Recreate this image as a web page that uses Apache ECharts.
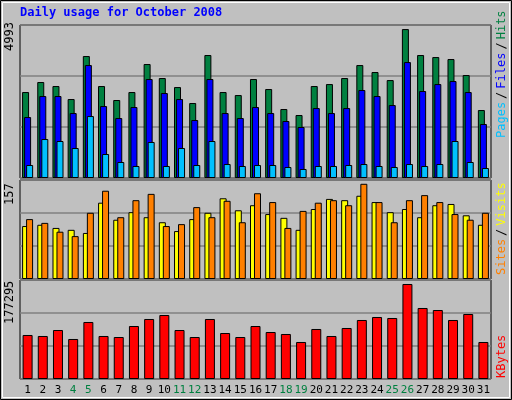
<!DOCTYPE html>
<html><head><meta charset="utf-8">
<script src="https://cdn.jsdelivr.net/npm/echarts@6/dist/echarts.min.js"></script>
<style>html,body{margin:0;padding:0;background:#c0c0c0}#c{width:512px;height:400px}</style>
</head><body><div id="c"></div>
<script>
const days = ['1','2','3','4','5','6','7','8','9','10','11','12','13','14','15','16','17','18','19','20','21','22','23','24','25','26','27','28','29','30','31'];
const weekend = ['4','5','11','12','18','19','25','26'];
const hits = [2805,3132,3001,2577,3980,3001,2545,2805,3719,3262,2968,2447,4013,2805,2707,3230,2903,2251,2055,3001,3066,3262,3686,3458,3196,4860,4013,3947,3882,3360,2218];
const files = [1990,2675,2675,2120,3686,2349,1957,2316,3230,2773,2577,1892,3230,2120,1957,2316,2120,1860,1664,2283,2120,2283,2871,2675,2381,3784,2839,3066,3164,2805,1762];
const pages = [424,1272,1207,979,2022,783,522,392,1175,392,979,424,1207,456,392,424,424,359,294,392,392,424,456,392,359,456,392,456,1207,522,326];
const sites = [84,86,81,78,73,121,94,106,98,90,76,95,105,128,109,117,103,97,78,111,127,125,132,122,106,111,98,117,119,101,86];
const visits = [95,89,75,68,105,140,98,125,135,84,87,114,98,124,90,136,122,81,108,121,125,117,151,122,90,125,133,122,103,94,105];
const kbytes = [78798,77007,87752,71635,102079,77007,75216,94915,107452,114615,87752,75216,107452,82379,75216,94915,84170,80589,66262,89543,77007,91334,105661,111034,109243,170132,127151,123569,105661,116406,66262];
const maxHits = 4993, maxVisits = 157, maxK = 177295;

const chart = echarts.init(document.getElementById('c'));
const G = [{top:25,height:153},{top:180,height:99},{top:280,height:99}];
const grids = G.map(g=>({left:20,right:21,top:g.top,height:g.height,show:true,backgroundColor:'#c0c0c0',borderColor:'#000',borderWidth:1}));
const xAxes = G.map((g,i)=>({type:'category',gridIndex:i,data:days,axisLine:{show:false},axisTick:{show:false},
  axisLabel:{show:i===2,interval:0,margin:6,fontFamily:'DejaVu Sans Mono',fontSize:11,
    formatter:v=>weekend.includes(v)?'{w|'+v+'}':'{n|'+v+'}',
    rich:{w:{color:'#008040',fontFamily:'DejaVu Sans Mono',fontSize:11},n:{color:'#000',fontFamily:'DejaVu Sans Mono',fontSize:11}}}}));
const maxes=[maxHits,maxVisits,maxK];
const yAxes = maxes.map((m,i)=>({type:'value',gridIndex:i,min:0,max:m,interval:m/3,axisLabel:{show:false},axisLine:{show:false},axisTick:{show:false},
  splitLine:{lineStyle:{color:'#808080',width:1.5}}}));
const bs=(c)=>({color:c,borderColor:'#000',borderWidth:1});
const series=[
 {type:'bar',name:'Hits',xAxisIndex:0,yAxisIndex:0,data:hits,barWidth:7,barGap:'-71%',itemStyle:bs('#008040')},
 {type:'bar',name:'Files',xAxisIndex:0,yAxisIndex:0,data:files,barWidth:7,barGap:'-71%',itemStyle:bs('#0000ff')},
 {type:'bar',name:'Pages',xAxisIndex:0,yAxisIndex:0,data:pages,barWidth:7,barGap:'-71%',itemStyle:bs('#00c0ff')},
 {type:'bar',name:'Sites',xAxisIndex:1,yAxisIndex:1,data:sites,barWidth:7,barGap:'-43%',itemStyle:bs('#ffff00')},
 {type:'bar',name:'Visits',xAxisIndex:1,yAxisIndex:1,data:visits,barWidth:7,barGap:'-43%',itemStyle:bs('#ff8000')},
 {type:'bar',name:'KBytes',xAxisIndex:2,yAxisIndex:2,data:kbytes,barWidth:10,itemStyle:bs('#ff0000')}
];
const font='DejaVu Sans Mono';
const vtext=(x,y,rich,txt,align)=>({type:'text',x:x,y:y,rotation:Math.PI/2,style:{text:txt,rich:rich,font:'12px '+font,align:align||'left',verticalAlign:'middle'}});
chart.setOption({
  backgroundColor:'#c0c0c0',animation:false,
  grid:grids,xAxis:xAxes,yAxis:yAxes,series:series,
  graphic:[
    {type:'rect',shape:{x:0.5,y:0.5,width:511,height:399},style:{fill:'none',stroke:'#000',lineWidth:1},z:-1},
    {type:'rect',shape:{x:2.5,y:2.5,width:507,height:395},style:{fill:'none',stroke:'#fff',lineWidth:1},z:-1},
    {type:'text',left:20,top:7,style:{text:'Daily usage for October 2008',fill:'#0000ff',font:'bold 12px '+font}},
    {type:'text',x:10,y:51,rotation:Math.PI/2,style:{text:String(maxHits),fill:'#000',font:'12px '+font,verticalAlign:'middle'}},
    {type:'text',x:10,y:205,rotation:Math.PI/2,style:{text:String(maxVisits),fill:'#000',font:'12px '+font,verticalAlign:'middle'}},
    {type:'text',x:10,y:324,rotation:Math.PI/2,style:{text:String(maxK),fill:'#000',font:'12px '+font,verticalAlign:'middle'}},
    {type:'text',x:502,y:138,rotation:Math.PI/2,style:{text:'{p|Pages}{s|/}{f|Files}{s|/}{h|Hits}',font:'12px '+font,verticalAlign:'middle',
      rich:{p:{fill:'#00c0ff',font:'12px '+font},f:{fill:'#0000ff',font:'12px '+font},h:{fill:'#008040',font:'12px '+font},s:{fill:'#000',font:'12px '+font,padding:[0,3]}}}},
    {type:'text',x:502,y:275,rotation:Math.PI/2,style:{text:'{o|Sites}{s|/}{y|Visits}',font:'12px '+font,verticalAlign:'middle',
      rich:{o:{fill:'#ff8000',font:'12px '+font},y:{fill:'#ffff00',font:'12px '+font},s:{fill:'#000',font:'12px '+font,padding:[0,3]}}}},
    {type:'text',x:502,y:378,rotation:Math.PI/2,style:{text:'KBytes',fill:'#ff0000',font:'12px '+font,verticalAlign:'middle'}}
  ]
});
</script></body></html>
